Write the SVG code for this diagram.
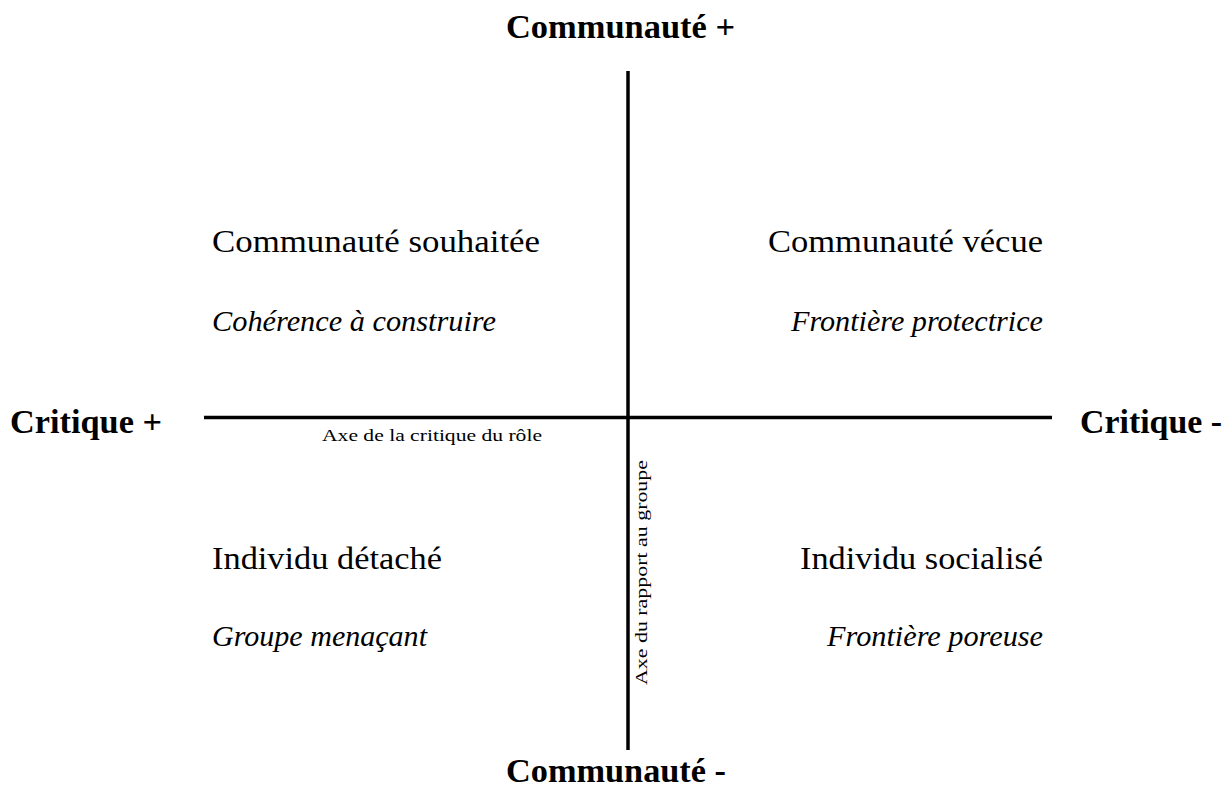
<svg xmlns="http://www.w3.org/2000/svg" width="1232" height="789" viewBox="0 0 1232 789">
<style>
.axis{font-family:"Liberation Serif","Times New Roman",serif;font-weight:bold;font-size:34px;fill:#000}
.q{font-family:"Liberation Serif","Times New Roman",serif;font-size:31px;fill:#000}
.qi{font-family:"Liberation Serif","Times New Roman",serif;font-style:italic;font-size:29px;fill:#000}
.small{font-family:"Liberation Serif","Times New Roman",serif;font-size:17px;fill:#000}
.line{stroke:#000;stroke-width:3.5;fill:none}
</style>
<rect width="1232" height="789" fill="#fff"/>
<g id="connectors">
<line class="line" x1="628" y1="71" x2="628" y2="750"/>
<line class="line" x1="204" y1="417.5" x2="1052" y2="417.5"/>
</g>
<g id="axis-labels">
<text id="communaute-plus" class="axis" x="506" y="38" textLength="229" lengthAdjust="spacingAndGlyphs">Communauté +</text>
<text id="communaute-minus" class="axis" x="506" y="782" textLength="220" lengthAdjust="spacingAndGlyphs">Communauté -</text>
<text id="critique-plus" class="axis" x="10" y="433" textLength="152" lengthAdjust="spacingAndGlyphs">Critique +</text>
<text id="critique-minus" class="axis" x="1080" y="433" textLength="142" lengthAdjust="spacingAndGlyphs">Critique -</text>
<text id="axe-critique" class="small" x="322" y="441" textLength="220" lengthAdjust="spacingAndGlyphs">Axe de la critique du rôle</text>
<text id="axe-rapport" class="small" transform="translate(647,685) rotate(-90)" x="0" y="0" textLength="225" lengthAdjust="spacingAndGlyphs">Axe du rapport au groupe</text>
</g>
<g id="q-top-left">
<text class="q" x="212" y="252" textLength="328" lengthAdjust="spacingAndGlyphs">Communauté souhaitée</text>
<text class="qi" x="212" y="331" textLength="284" lengthAdjust="spacingAndGlyphs">Cohérence à construire</text>
</g>
<g id="q-top-right">
<text class="q" x="768" y="252" textLength="275" lengthAdjust="spacingAndGlyphs">Communauté vécue</text>
<text class="qi" x="791" y="331" textLength="252" lengthAdjust="spacingAndGlyphs">Frontière protectrice</text>
</g>
<g id="q-bottom-left">
<text class="q" x="212" y="569" textLength="230" lengthAdjust="spacingAndGlyphs">Individu détaché</text>
<text class="qi" x="212" y="646" textLength="215" lengthAdjust="spacingAndGlyphs">Groupe menaçant</text>
</g>
<g id="q-bottom-right">
<text class="q" x="800" y="569" textLength="243" lengthAdjust="spacingAndGlyphs">Individu socialisé</text>
<text class="qi" x="827" y="646" textLength="216" lengthAdjust="spacingAndGlyphs">Frontière poreuse</text>
</g>
</svg>
